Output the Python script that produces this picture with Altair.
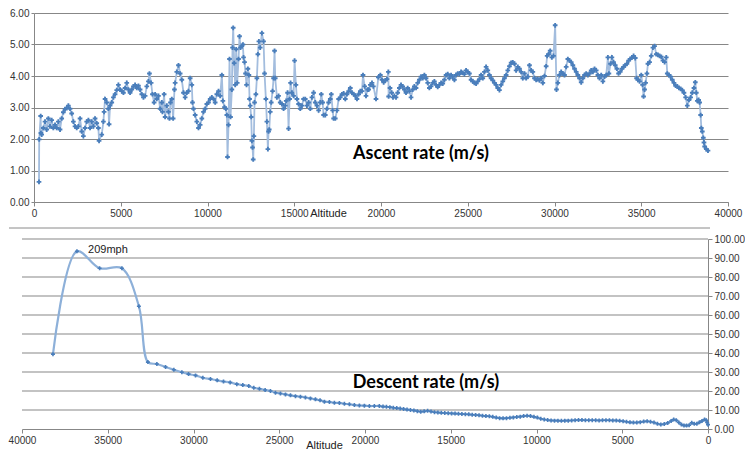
import altair as alt
import pandas as pd

# ---------------- data ----------------
ASC_ALT = [288, 300, 385, 400, 442, 538, 635, 731, 827, 923, 1019, 1115, 1212, 1308, 1404, 1500,
           1596, 1692, 1788, 1885, 1981, 2077, 2173, 2269, 2365, 2462, 2558, 2654, 2750, 2846, 2942,
           3038, 3135, 3231, 3327, 3423, 3519, 3615, 3712, 3750, 3904, 4000, 4040, 4096, 4192, 4288,
           4327, 4385, 4481, 4577, 4673, 4769, 4865, 4962, 5058, 5154, 5250, 5346, 5442, 5538, 5635,
           5731, 5827, 5923, 6019, 6115, 6212, 6308, 6404, 6500, 6596, 6654, 6750, 6827, 6923, 6981,
           7077, 7173, 7269, 7365, 7404, 7500, 7558, 7654, 7750, 7808, 7865, 7942, 8019, 8096, 8135,
           8231, 8327, 8423, 8519, 8615, 8712, 8808, 8904, 9000, 9096, 9135, 9192, 9288, 9385, 9481,
           9577, 9673, 9769, 9865, 9962, 10058, 10154, 10250, 10346, 10442, 10538, 10635, 10731,
           10827, 10885, 10981, 11058, 11115, 11154, 11212, 11269, 11327, 11404, 11442, 11481, 11538,
           11596, 11654, 11712, 11788, 11846, 11904, 11981, 12038, 12077, 12135, 12192, 12250, 12327,
           12385, 12423, 12462, 12519, 12558, 12596, 12635, 12673, 12712, 12788, 12846, 12904, 12962,
           13038, 13135, 13231, 13288, 13365, 13423, 13481, 13519, 13558, 13615, 13673, 13750, 13808,
           13865, 13904, 14000, 14096, 14192, 14288, 14385, 14481, 14538, 14615, 14673, 14731, 14788,
           14865, 14962, 15019, 15096, 15154, 15250, 15346, 15442, 15538, 15635, 15731, 15827, 15923,
           16019, 16115, 16212, 16308, 16404, 16500, 16558, 16635, 16692, 16788, 16885, 16981, 17077,
           17135, 17212, 17269, 17365, 17462, 17558, 17654, 17750, 17846, 17942, 18038, 18135, 18231,
           18327, 18423, 18519, 18615, 18712, 18808, 18904, 18962, 19058, 19135, 19231, 19288, 19385,
           19481, 19560, 19712, 19846, 19962, 20058, 20154, 20250, 20346, 20423, 20440, 20519, 20615,
           20692, 20769, 20865, 20962, 21058, 21154, 21250, 21346, 21442, 21538, 21635, 21731, 21827,
           21923, 22019, 22115, 22212, 22308, 22404, 22500, 22596, 22692, 22788, 22885, 22981, 23077,
           23173, 23269, 23365, 23462, 23558, 23654, 23750, 23846, 23942, 24038, 24135, 24231, 24327,
           24423, 24519, 24615, 24712, 24808, 24904, 25000, 25096, 25192, 25288, 25385, 25481, 25577,
           25673, 25769, 25865, 25962, 26058, 26154, 26250, 26346, 26442, 26538, 26635, 26731, 26827,
           26923, 27019, 27115, 27212, 27308, 27404, 27500, 27596, 27692, 27788, 27885, 27981, 28077,
           28173, 28269, 28365, 28462, 28558, 28654, 28750, 28846, 28942, 29038, 29135, 29231, 29327,
           29423, 29519, 29577, 29654, 29750, 29846, 29942, 30038, 30115, 30192, 30288, 30385, 30481,
           30577, 30673, 30769, 30865, 30962, 31058, 31154, 31250, 31346, 31442, 31538, 31635, 31731,
           31827, 31923, 32019, 32115, 32212, 32308, 32404, 32500, 32596, 32692, 32788, 32885, 32981,
           33077, 33135, 33231, 33308, 33404, 33500, 33596, 33692, 33788, 33885, 33981, 34077, 34173,
           34269, 34365, 34462, 34558, 34654, 34731, 34808, 34904, 35000, 35077, 35135, 35192, 35250,
           35327, 35385, 35481, 35577, 35673, 35769, 35865, 35962, 36058, 36154, 36250, 36346, 36442,
           36500, 36596, 36692, 36788, 36885, 36981, 37077, 37173, 37269, 37365, 37462, 37558, 37654,
           37750, 37846, 37942, 38038, 38115, 38173, 38231, 38308, 38365, 38423, 38462, 38519, 38577,
           38615, 38654, 38750, 38846]
ASC_RATE = [0.64, 1.99, 2.73, 2.19, 2.14, 2.35, 2.55, 2.30, 2.65, 2.40, 2.60, 2.35, 2.45, 2.35, 2.55, 2.30,
            2.65, 2.85, 2.95, 2.98, 3.06, 2.96, 2.81, 2.55, 2.40, 2.35, 2.40, 2.65, 2.24, 2.09, 2.35,
            2.55, 2.60, 2.35, 2.55, 2.40, 2.65, 2.50, 2.35, 1.94, 2.14, 2.55, 2.86, 3.27, 3.16, 2.96,
            2.47, 3.06, 3.16, 3.32, 3.42, 3.55, 3.72, 3.57, 3.52, 3.47, 3.62, 3.78, 3.57, 3.47, 3.57,
            3.67, 3.72, 3.62, 3.69, 3.57, 3.42, 3.32, 3.37, 3.67, 3.83, 4.08, 3.78, 3.42, 3.16, 3.42,
            3.27, 3.37, 2.96, 3.16, 2.86, 3.42, 2.70, 3.06, 2.86, 2.65, 3.16, 3.27, 2.65, 3.57, 3.78,
            4.13, 4.34, 4.08, 3.88, 3.47, 3.32, 3.47, 3.52, 3.93, 3.72, 3.16, 2.96, 2.76, 2.55, 2.35,
            2.45, 2.65, 2.86, 2.96, 3.11, 3.16, 3.27, 3.32, 3.27, 3.16, 3.42, 3.52, 3.37,
            4.03, 3.21, 3.01, 2.96, 2.76, 1.43, 2.45, 4.54, 2.70, 3.57, 4.90, 5.53, 4.41,
            3.72, 4.85, 3.78, 4.54, 5.26, 4.90, 4.95, 5.00, 4.59, 4.44, 4.08, 3.72, 4.23,
            4.03, 3.27, 3.06, 2.70, 1.94, 1.73, 1.35, 2.09, 3.16, 3.42, 3.93, 4.69, 5.10,
            4.90, 5.36, 5.10, 4.08, 3.27, 2.55, 1.68, 2.24, 2.30, 2.86, 3.16, 3.52, 3.93,
            4.80, 3.93, 3.32, 3.37, 3.16, 3.11, 2.96, 3.06, 3.21, 3.47, 2.33, 3.27, 3.78,
            3.47, 3.37, 4.49, 3.72, 3.27, 3.11, 2.96, 3.06, 3.27, 3.27, 3.06, 3.16, 2.96,
            3.32, 3.47, 3.16, 3.06, 2.91, 3.16, 3.42, 3.16, 2.76, 2.76, 2.96, 3.16, 3.27,
            3.42, 2.91, 2.65, 2.65, 2.91, 3.27, 3.32, 3.42, 3.45, 3.27, 3.42, 3.52, 3.62,
            3.47, 3.42, 3.37, 3.27, 3.42, 3.52, 3.52, 4.03, 3.67, 3.37, 3.57, 3.57, 3.72,
            3.78, 3.67, 3.27, 3.96, 4.03, 3.88, 3.80, 3.86, 3.90, 4.13, 3.35, 3.62, 3.47,
            3.32, 3.37, 3.32, 3.47, 3.62, 3.72, 3.67, 3.57, 3.47, 3.62, 3.52, 3.32, 3.57,
            3.67, 3.62, 3.78, 3.88, 3.98, 3.93, 4.03, 3.93, 3.78, 3.62, 3.67, 3.78, 3.83,
            3.72, 3.65, 3.72, 3.78, 3.76, 3.88, 4.03, 4.06, 3.93, 4.03, 3.98, 3.88, 4.03,
            4.08, 4.06, 4.13, 4.10, 4.06, 4.18, 4.13, 4.08, 3.88, 3.83, 3.78, 3.76, 3.83,
            3.90, 4.03, 3.93, 4.13, 4.29, 4.18, 4.03, 3.93, 3.86, 3.78, 3.72, 3.62, 3.55,
            3.72, 3.83, 3.93, 4.03, 4.18, 4.31, 4.42, 4.43, 4.39, 4.18, 4.29, 4.23, 4.13,
            3.93, 4.08, 3.93, 3.98, 4.34, 4.18, 4.13, 3.93, 3.88, 3.90, 3.86, 3.93, 3.78,
            4.00, 4.31, 4.64, 4.69, 4.80, 4.59, 4.64, 5.61, 3.57, 3.78, 4.03, 4.13, 4.08,
            4.03, 4.29, 4.54, 4.49, 4.44, 4.34, 4.23, 4.13, 4.03, 3.93, 3.80, 3.93, 4.03,
            4.08, 4.03, 4.08, 4.18, 4.13, 4.23, 4.18, 4.03, 3.93, 4.03, 3.83, 3.98, 4.03,
            4.59, 4.08, 4.39, 4.59, 4.44, 4.34, 4.23, 4.08, 4.13, 4.23, 4.29, 4.34, 4.39,
            4.49, 4.54, 4.59, 4.64, 4.57, 3.93, 3.88, 3.83, 4.03, 3.72, 3.35, 3.57, 3.78,
            4.08, 4.39, 4.44, 4.64, 4.90, 4.95, 4.69, 4.67, 4.64, 4.61, 4.49, 4.44, 4.59,
            4.08, 4.03, 3.98, 3.88, 3.78, 3.69, 3.67, 3.62, 3.59, 3.55, 3.47, 3.32, 3.06,
            3.24, 3.32, 3.47, 3.62, 3.80, 3.47, 3.21, 3.24, 3.16, 2.76, 2.35, 2.24, 2.04,
            1.89, 1.76, 1.68, 1.63]

DESC_ALT = [38194, 36796, 35475, 34174, 33184, 32659, 32135, 31630, 31145, 30678, 30290, 29882,
            29455, 29010, 28620, 28250, 27863, 27474, 27125, 26775, 26484, 26154, 25823, 25512,
            25220, 24930, 24638, 24346, 24056, 23765, 23474, 23182, 22890, 22620, 22367, 22075,
            21784, 21493, 21200, 20910, 20619, 20327, 20036, 19745, 19454, 19163,
            18950, 18750, 18550, 18350, 18150, 17950, 17750, 17550, 17350, 17150, 16950, 16750,
            16550, 16350, 16150, 15950, 15750, 15550, 15350, 15150, 14950, 14750, 14550, 14350,
            14150, 13950, 13750, 13550, 13350, 13150, 12950, 12750, 12550, 12350, 12150, 11950,
            11750, 11550, 11350, 11150, 10950, 10750, 10550, 10350, 10150, 9950, 9750, 9550,
            9350, 9150, 8950, 8750, 8550, 8350, 8150, 7950, 7750, 7550, 7350, 7150, 6950, 6750,
            6550, 6350, 6150, 5950, 5750, 5550, 5350, 5150, 4950, 4750, 4550, 4350, 4150, 3950,
            3750, 3550, 3350, 3150, 2950, 2750, 2550, 2350, 2150, 2000, 1850, 1700, 1550, 1400,
            1250, 1100, 950, 800, 650, 500, 350, 200, 100, 50, 0]
DESC_RATE = [39.4, 93.5, 84.6, 84.6, 64.6, 35.2, 34.2, 32.6, 31.2, 29.9, 28.9, 28.2,
             27.0, 26.3, 25.6, 25.0, 24.5, 23.6, 23.1, 22.6, 21.7, 21.2, 20.5, 20.0,
             19.1, 18.7, 18.2, 17.7, 17.3, 17.0, 16.6, 16.1, 15.6, 15.1, 14.4, 14.2,
             13.8, 13.7, 13.3, 13.0, 12.6, 12.4, 12.3, 12.1, 12.1, 12.1,
             11.8, 11.7, 11.5, 11.2, 11.0, 10.8, 10.5, 10.2, 10.0, 9.8, 9.4, 9.1,
             9.3, 9.6, 9.2, 8.8, 8.7, 8.5, 8.4, 8.3, 8.2, 8.1, 8.0, 7.9,
             7.8, 7.7, 7.5, 7.4, 7.2, 7.0, 6.8, 6.7, 6.4, 6.0, 5.7, 5.6,
             5.7, 5.9, 6.1, 6.3, 6.5, 6.8, 7.0, 6.8, 6.4, 6.0, 5.4, 5.0,
             4.7, 4.5, 4.4, 4.4, 4.3, 4.4, 4.4, 4.5, 4.6, 4.7, 4.7, 4.6, 4.6, 4.6,
             4.6, 4.5, 4.6, 4.6, 4.6, 4.5, 4.5, 4.3, 4.1, 3.8, 3.5, 3.4, 3.4, 3.6,
             3.9, 4.1, 3.8, 3.4, 2.8, 2.4, 2.6, 3.2, 4.2, 5.0, 4.6, 3.4, 2.4, 1.9,
             1.8, 2.0, 3.3, 2.7, 2.8, 3.5, 4.2, 5.0, 4.6, 3.4, 2.3]

X_TICKS = [0, 5000, 10000, 15000, 20000, 25000, 30000, 35000, 40000]
ASC_TICKS = [0, 1, 2, 3, 4, 5, 6]
DESC_TICKS = [0, 10, 20, 30, 40, 50, 60, 70, 80, 90, 100]

ASC_TITLE = "Ascent rate (m/s)"
DESC_TITLE = "Descent rate (m/s)"
PEAK_NOTE = "209mph"
PEAK_NOTE_ALT = 36150
PEAK_NOTE_RATE = 94

# ---------------- styling ----------------
FONT = "Liberation Sans"
BOLD_FONT = "Lato"
GRID = "#878787"
LABEL = "#333333"
LINE = "#A3BDDE"
MARK = "#4A7EBB"

asc = pd.DataFrame({"alt": ASC_ALT, "rate": ASC_RATE, "i": list(range(len(ASC_ALT)))})
desc = pd.DataFrame({"alt": DESC_ALT, "rate": DESC_RATE})

common_axis = dict(domainColor=GRID, tickColor=GRID, labelColor=LABEL, labelFont=FONT,
                   labelFontSize=10, labelFlush=False, labelOverlap=False)

# ---------------- top panel: ascent ----------------
x_top = alt.X("alt:Q", scale=alt.Scale(domain=[0, 40000], nice=False),
              axis=alt.Axis(values=X_TICKS, format="d", grid=False, tickSize=4, labelPadding=2,
                            title="Altitude", titleX=294, titleY=11, titleBaseline="middle",
                            titleAlign="center", titleFont=FONT, titleFontSize=11,
                            titleFontWeight="normal", titleColor="#222222", **common_axis))
y_top = alt.Y("rate:Q", scale=alt.Scale(domain=[0, 6], nice=False),
              axis=alt.Axis(values=ASC_TICKS, format=".2f", title=None, grid=True, gridColor=GRID,
                            tickSize=3, labelPadding=2, **common_axis))

top_line = alt.Chart(asc).mark_line(color=LINE, strokeWidth=1.8).encode(x=x_top, y=y_top, order="i:Q")
top_pts = alt.Chart(asc).mark_point(shape="cross", filled=True, size=22, color=MARK, opacity=1).encode(
    x=x_top, y=y_top)
top_txt = alt.Chart(pd.DataFrame({"t": [ASC_TITLE]})).mark_text(
    font=BOLD_FONT, fontSize=18, fontWeight="bold", color="#000000", align="center", baseline="middle"
).encode(x=alt.value(387), y=alt.value(141), text="t:N")

top = alt.layer(top_line, top_pts, top_txt).properties(width=694, height=189)

# ---------------- bottom panel: descent ----------------
BOT_W = 674
x_bot = alt.X("alt:Q", scale=alt.Scale(domain=[40000, 0], range=[-12, BOT_W], nice=False),
              axis=alt.Axis(values=X_TICKS, format="d", grid=False, tickSize=4, labelPadding=2,
                            title="Altitude", titleX=290, titleY=16, titleBaseline="middle",
                            titleAlign="center", titleFont=FONT, titleFontSize=11,
                            titleFontWeight="normal", titleColor="#222222", **common_axis))
y_bot = alt.Y("rate:Q", scale=alt.Scale(domain=[0, 100], nice=False),
              axis=alt.Axis(orient="right", values=DESC_TICKS, format=".2f", title=None, grid=False,
                            tickSize=4, labelPadding=2, **common_axis))

grid_bot = alt.Chart(pd.DataFrame({"rate": DESC_TICKS[1:]})).mark_rule(color=GRID, strokeWidth=1).encode(
    y=y_bot, x=alt.value(-12), x2=alt.value(BOT_W))
bot_line = alt.Chart(desc).mark_line(color="#8DB0D9", strokeWidth=2.2, interpolate="catmull-rom").encode(
    x=x_bot, y=y_bot)
bot_pts = alt.Chart(desc).mark_point(shape="cross", filled=True, size=16, color=MARK, opacity=1).encode(
    x=x_bot, y=y_bot)
bot_note = alt.Chart(pd.DataFrame({"alt": [PEAK_NOTE_ALT], "rate": [PEAK_NOTE_RATE], "t": [PEAK_NOTE]})).mark_text(
    font=FONT, fontSize=11, color="#222222", align="left", baseline="middle"
).encode(x=x_bot, y=y_bot, text="t:N")
bot_txt = alt.Chart(pd.DataFrame({"t": [DESC_TITLE]})).mark_text(
    font=BOLD_FONT, fontSize=18, fontWeight="bold", color="#000000", align="center", baseline="middle"
).encode(x=alt.value(392), y=alt.value(144), text="t:N")
sep = alt.Chart(pd.DataFrame({"k": [0]})).mark_rule(color="#8a8a8a", strokeWidth=1).encode(
    x=alt.value(-25), x2=alt.value(BOT_W + 2), y=alt.value(-11))

bottom = alt.layer(sep, grid_bot, bot_line, bot_pts, bot_note, bot_txt).properties(width=BOT_W, height=190)

chart = alt.vconcat(top, bottom, spacing=9).properties(
    padding={"left": 0, "top": 0, "right": 0, "bottom": 0}
).configure(background="white", view=alt.ViewConfig(stroke=None))

chart.save("out.html", embed_options={"renderer": "svg", "actions": False})
